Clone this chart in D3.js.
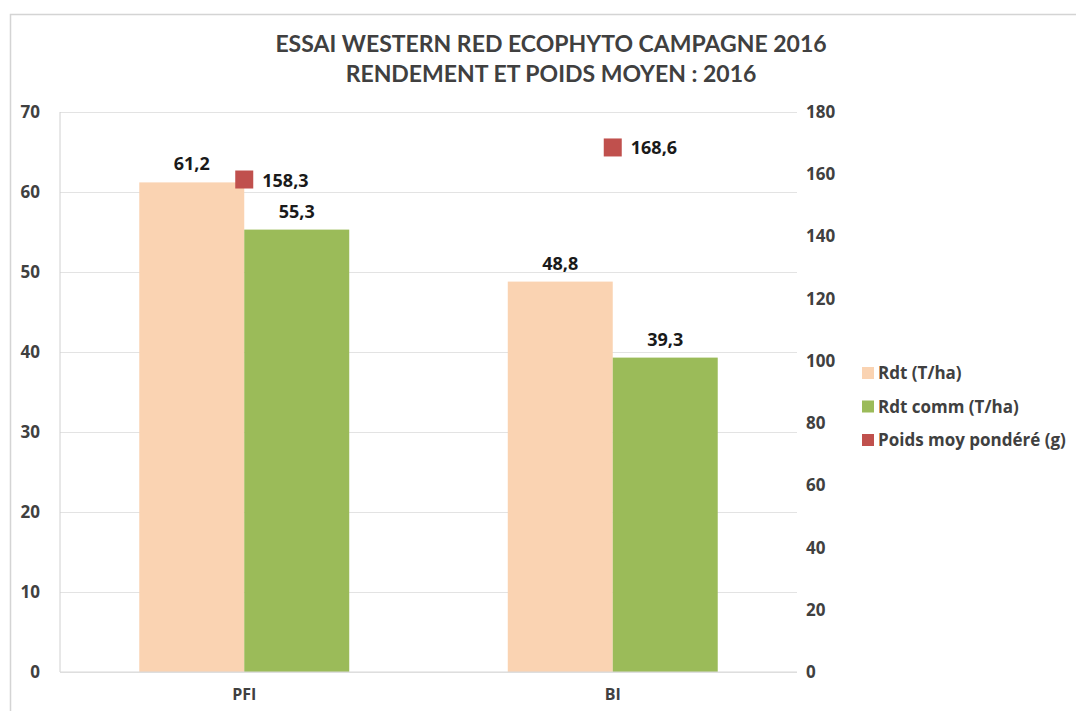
<!DOCTYPE html>
<html>
<head>
<meta charset="utf-8">
<script src="https://cdn.jsdelivr.net/npm/d3@7"></script>
<style>
  body { margin: 0; background: #fff; }
  svg { display: block; font-family: "Open Sans", sans-serif; }
</style>
</head>
<body>
<svg id="chart"></svg>
<script>
const categories = ['PFI', 'BI'];
const rdt = [61.2, 48.8];
const rdtComm = [55.3, 39.3];
const poidsMoy = [158.3, 168.6];
const leftTicks = [0, 10, 20, 30, 40, 50, 60, 70];
const rightTicks = [0, 20, 40, 60, 80, 100, 120, 140, 160, 180];
const seriesNames = ['Rdt (T/ha)', 'Rdt comm (T/ha)', 'Poids moy pondéré (g)'];
const titleLines = ['ESSAI WESTERN RED ECOPHYTO CAMPAGNE 2016', 'RENDEMENT ET POIDS MOYEN : 2016'];

const width = 1076;
const height = 711;
const margin = { top: 112, right: 279, bottom: 39, left: 60 };
const colors = ['#fad3b2', '#9bbb59', '#c0504d'];
const textColor = '#404040';
const fmt = v => String(v).replace('.', ',');

const svg = d3.select('#chart')
    .attr('width', width)
    .attr('height', height);

// frame
svg.append('path')
    .attr('d', `M10.5,${height} V14.5 H${width}`)
    .attr('fill', 'none')
    .attr('stroke', '#d4d4d4')
    .attr('stroke-width', 1.5);

const x0 = d3.scaleBand()
    .domain(categories)
    .range([margin.left, width - margin.right])
    .padding(0);

const x1 = d3.scaleBand()
    .domain(['rdt', 'rdtComm'])
    .range([0, x0.bandwidth()])
    .paddingInner(0)
    .paddingOuter(0.755);

const yLeft = d3.scaleLinear()
    .domain([0, 70])
    .range([height - margin.bottom, margin.top]);

const yRight = d3.scaleLinear()
    .domain([0, 180])
    .range([height - margin.bottom, margin.top]);

// grid
const yGrid = d3.axisLeft(yLeft)
    .tickValues(leftTicks)
    .tickSize(-(width - margin.left - margin.right))
    .tickFormat('');

svg.append('g')
    .attr('transform', `translate(${margin.left}, 0)`)
    .call(yGrid)
    .call(g => g.select('.domain').remove())
    .call(g => g.selectAll('line').attr('stroke', '#e3e3e3').attr('stroke-width', 1.2));

// left axis line
svg.append('line')
    .attr('x1', margin.left).attr('x2', margin.left)
    .attr('y1', yLeft(70)).attr('y2', yLeft(0))
    .attr('stroke', '#d0d0d0');

// bars
const data = categories.map((c, i) => ({ cat: c, rdt: rdt[i], rdtComm: rdtComm[i], poids: poidsMoy[i] }));

const groups = svg.append('g').selectAll('g')
    .data(data)
    .join('g')
    .attr('transform', d => `translate(${x0(d.cat)}, 0)`);

groups.selectAll('rect')
    .data(d => [{ key: 'rdt', v: d.rdt }, { key: 'rdtComm', v: d.rdtComm }])
    .join('rect')
    .attr('x', d => x1(d.key))
    .attr('y', d => yLeft(d.v))
    .attr('width', x1.bandwidth())
    .attr('height', d => yLeft(0) - yLeft(d.v))
    .attr('fill', d => d.key === 'rdt' ? colors[0] : colors[1]);

groups.selectAll('text.bar-label')
    .data(d => [{ key: 'rdt', v: d.rdt }, { key: 'rdtComm', v: d.rdtComm }])
    .join('text')
    .attr('class', 'bar-label')
    .attr('x', d => x1(d.key) + x1.bandwidth() / 2)
    .attr('y', d => yLeft(d.v) - 12)
    .attr('text-anchor', 'middle')
    .attr('font-size', 18)
    .attr('font-weight', 700)
    .attr('fill', '#1a1a1a')
    .text(d => fmt(d.v));

// baseline
svg.append('line')
    .attr('x1', margin.left).attr('x2', width - margin.right)
    .attr('y1', yLeft(0)).attr('y2', yLeft(0))
    .attr('stroke', '#d9d9d9')
    .attr('stroke-width', 1.2);

// markers on right axis
const markerSize = 18;
svg.append('g').selectAll('rect')
    .data(data)
    .join('rect')
    .attr('x', d => x0(d.cat) + x0.bandwidth() / 2 - markerSize / 2)
    .attr('y', d => yRight(d.poids) - markerSize / 2)
    .attr('width', markerSize)
    .attr('height', markerSize)
    .attr('fill', colors[2]);

svg.append('g').selectAll('text')
    .data(data)
    .join('text')
    .attr('x', d => x0(d.cat) + x0.bandwidth() / 2 + 18)
    .attr('y', d => yRight(d.poids) + 7)
    .attr('font-size', 18)
    .attr('font-weight', 700)
    .attr('fill', '#1a1a1a')
    .text(d => fmt(d.poids));

// axes
const leftAxis = d3.axisLeft(yLeft).tickValues(leftTicks).tickSize(0).tickPadding(20);
svg.append('g')
    .attr('transform', `translate(${margin.left}, 0)`)
    .call(leftAxis)
    .call(g => g.select('.domain').remove())
    .call(g => g.selectAll('text')
        .attr('font-family', '"Open Sans", sans-serif')
        .attr('font-size', 17)
        .attr('font-weight', 700)
        .attr('fill', textColor));

const rightAxis = d3.axisRight(yRight).tickValues(rightTicks).tickSize(0).tickPadding(9);
svg.append('g')
    .attr('transform', `translate(${width - margin.right}, 0)`)
    .call(rightAxis)
    .call(g => g.select('.domain').remove())
    .call(g => g.selectAll('text')
        .attr('font-family', '"Open Sans", sans-serif')
        .attr('font-size', 17)
        .attr('font-weight', 700)
        .attr('fill', textColor));

const xAxis = d3.axisBottom(x0).tickSize(0).tickPadding(17);
svg.append('g')
    .attr('transform', `translate(0, ${yLeft(0)})`)
    .call(xAxis)
    .call(g => g.select('.domain').remove())
    .call(g => g.selectAll('text')
        .attr('font-family', '"Open Sans", sans-serif')
        .attr('font-size', 16)
        .attr('font-weight', 700)
        .attr('fill', textColor));

// title
svg.append('g').selectAll('text')
    .data(titleLines)
    .join('text')
    .attr('x', 551)
    .attr('y', (d, i) => 52 + i * 30)
    .attr('text-anchor', 'middle')
    .attr('font-family', 'Lato, sans-serif')
    .attr('font-size', 23)
    .attr('font-weight', 700)
    .attr('fill', textColor)
    .text(d => d);

// legend
const legend = svg.append('g')
    .attr('transform', 'translate(862, 373)');

const items = legend.selectAll('g')
    .data(seriesNames)
    .join('g')
    .attr('transform', (d, i) => `translate(0, ${i * 33.5})`);

items.append('rect')
    .attr('x', 0)
    .attr('y', -6)
    .attr('width', 12)
    .attr('height', 12)
    .attr('fill', (d, i) => colors[i]);

items.append('text')
    .attr('x', 16)
    .attr('y', 6)
    .attr('font-size', 17)
    .attr('font-weight', 700)
    .attr('fill', textColor)
    .text(d => d);
</script>
</body>
</html>
